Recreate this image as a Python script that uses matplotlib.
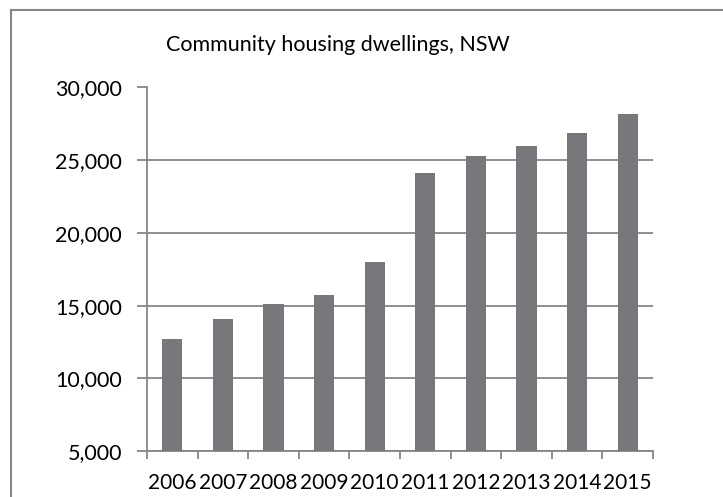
import numpy as np
import matplotlib
matplotlib.use("Agg")
import matplotlib.pyplot as plt
from matplotlib.lines import Line2D
from matplotlib.ticker import FuncFormatter, FixedLocator

years = ["2006", "2007", "2008", "2009", "2010", "2011", "2012", "2013", "2014", "2015"]
dwellings = [12700, 14100, 15100, 15700, 18000, 24100, 25300, 26000, 26900, 28200]
y_ticks = [5000, 10000, 15000, 20000, 25000, 30000]
title = "Community housing dwellings, NSW"

BAR = "#77787b"
GRID = "#868686"

plt.rcParams.update({
    "font.family": ["Lato", "DejaVu Sans"],
    "font.size": 15,
})

W, H = 723, 497
fig = plt.figure(figsize=(W / 100, H / 100), dpi=100)
ax = fig.add_axes([147 / W, 1 - 451 / H, (653 - 147) / W, (451 - 87.5) / H])

x = np.arange(len(years))
ax.bar(x, dwellings, width=0.4, color=BAR, zorder=3)

ax.set_xlim(-0.5, len(years) - 0.5)
ax.set_ylim(5000, 30000)
ax.set_yticks(y_ticks)
ax.yaxis.set_major_formatter(FuncFormatter(lambda v, p: f"{int(v):,}"))
ax.grid(axis="y", color=GRID, linewidth=1.3, zorder=0)

ax.set_xticks(x)
ax.set_xticklabels(years)
ax.xaxis.set_minor_locator(FixedLocator(np.arange(-0.5, len(years), 1.0)))
ax.tick_params(axis="x", which="major", length=0, pad=16, labelsize=15)
ax.tick_params(axis="x", which="minor", length=6, width=1.3, color=GRID, direction="out")
ax.tick_params(axis="y", length=7, width=1.3, color=GRID, pad=11, labelsize=15.5)

for s in ["top", "right"]:
    ax.spines[s].set_visible(False)
for s in ["left", "bottom"]:
    ax.spines[s].set_color(GRID)
    ax.spines[s].set_linewidth(1.3)

# chart frame (right and bottom edges fall outside the image)
fig.add_artist(Line2D([11 / W, 1.0], [1 - 9.5 / H, 1 - 9.5 / H], color=GRID, linewidth=1.5))
fig.add_artist(Line2D([11 / W, 11 / W], [0.0, 1 - 9.5 / H], color=GRID, linewidth=1.5))

fig.text(338 / W, 1 - 51 / H, title, ha="center", va="baseline", fontsize=15.5)

fig.savefig("out.png", dpi=100)
